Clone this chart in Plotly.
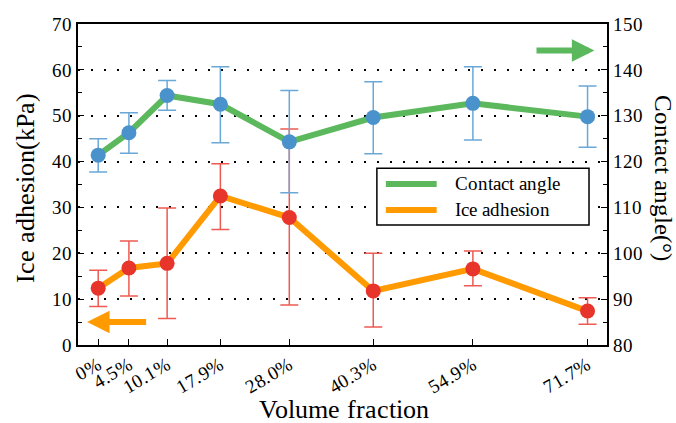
import plotly.graph_objects as go

volume_fraction = [0, 4.5, 10.1, 17.9, 28.0, 40.3, 54.9, 71.7]
tick_labels = ["0%", "4.5%", "10.1%", "17.9%", "28.0%", "40.3%", "54.9%", "71.7%"]

contact_angle = [121.4, 126.3, 134.4, 132.5, 124.3, 129.6, 132.7, 129.8]
contact_err_plus = [3.6, 4.35, 3.3, 8.2, 11.2, 7.8, 8.0, 6.7]
contact_err_minus = [3.7, 4.5, 3.2, 8.4, 11.1, 7.9, 8.0, 6.7]

ice_adhesion = [12.4, 16.8, 17.8, 32.5, 27.8, 11.8, 16.6, 7.4]
ice_err_plus = [3.9, 5.9, 12.1, 7.0, 19.3, 8.2, 3.9, 2.9]
ice_err_minus = [4.0, 6.1, 12.0, 7.3, 19.1, 7.9, 3.7, 2.9]

series_names = ["Contact angle", "Ice adhesion"]

GREEN = "#5cb85c"
BLUE = "#4a92cb"
BLUE_ERR = "#6aa8d8"
ORANGE = "#ff9a00"
RED = "#e8352b"
RED_ERR = "#ee5a52"
FONT = "RefSerif, Liberation Serif, Times New Roman, serif"

fig = go.Figure()

fig.add_trace(go.Scatter(
    x=volume_fraction, y=contact_angle, yaxis="y2", mode="lines+markers",
    name=series_names[0],
    line=dict(color=GREEN, width=6),
    marker=dict(color=BLUE, size=15),
    error_y=dict(type="data", array=contact_err_plus, arrayminus=contact_err_minus,
                 color=BLUE_ERR, thickness=1.5, width=9, symmetric=False),
    showlegend=False,
))
fig.add_trace(go.Scatter(
    x=volume_fraction, y=ice_adhesion, mode="lines+markers",
    name=series_names[1],
    line=dict(color=ORANGE, width=6),
    marker=dict(color=RED, size=15),
    error_y=dict(type="data", array=ice_err_plus, arrayminus=ice_err_minus,
                 color=RED_ERR, thickness=1.5, width=9, symmetric=False),
    showlegend=False,
))

# Hand-drawn legend box (paper coordinates)
legend_shapes = [
    dict(type="rect", xref="paper", yref="paper", x0=0.565, x1=0.966, y0=0.374, y1=0.551,
         line=dict(color="black", width=1.5), fillcolor="white", layer="above"),
    dict(type="line", xref="paper", yref="paper", x0=0.582, x1=0.678, y0=0.5016, y1=0.5016,
         line=dict(color=GREEN, width=6), layer="above"),
    dict(type="line", xref="paper", yref="paper", x0=0.582, x1=0.678, y0=0.4206, y1=0.4206,
         line=dict(color=ORANGE, width=6), layer="above"),
]
legend_texts = [
    dict(text=series_names[0], xref="paper", yref="paper", x=0.709, y=0.5016,
         xanchor="left", yanchor="middle", showarrow=False, font=dict(family=FONT, size=19)),
    dict(text=series_names[1], xref="paper", yref="paper", x=0.709, y=0.4206,
         xanchor="left", yanchor="middle", showarrow=False, font=dict(family=FONT, size=19)),
]

fig.update_layout(
    width=676, height=423,
    margin=dict(l=78, r=69, t=24, b=78, autoexpand=False),
    paper_bgcolor="white", plot_bgcolor="white",
    font=dict(family=FONT, size=19, color="black"),
    showlegend=False,
    xaxis=dict(
        range=[-2.96, 74.55], tickmode="array", tickvals=volume_fraction, ticktext=tick_labels,
        tickangle=-30, ticks="inside", ticklen=6, tickcolor="black",
        tickfont=dict(family=FONT, size=19),
        showline=True, linecolor="black", linewidth=1.5, mirror=True,
        showgrid=False, zeroline=False,
    ),
    yaxis=dict(
        range=[0, 70], dtick=10, ticks="inside", ticklen=6, tickcolor="black",
        tickfont=dict(family=FONT, size=19),
        showline=True, linecolor="black", linewidth=1.5,
        showgrid=True, gridcolor="black", gridwidth=2, griddash="2px,11px",
        zeroline=False,
        minor=dict(dtick=5, ticks="inside", ticklen=4, tickcolor="black", showgrid=False),
    ),
    yaxis2=dict(
        range=[80, 150], dtick=10, overlaying="y", side="right",
        ticks="inside", ticklen=6, tickcolor="black",
        tickfont=dict(family=FONT, size=19),
        showline=True, linecolor="black", linewidth=1.5,
        showgrid=False, zeroline=False,
        minor=dict(dtick=5, ticks="inside", ticklen=4, tickcolor="black"),
    ),
    shapes=legend_shapes,
    annotations=[
        dict(text="Ice adhesion(kPa)", xref="paper", yref="paper", x=-0.1, y=0.489,
             textangle=-90, showarrow=False, font=dict(family=FONT, size=26),
             xanchor="center", yanchor="middle"),
        dict(text="Contact angle(°)", xref="paper", yref="paper", x=1.106, y=0.52,
             textangle=90, showarrow=False, font=dict(family=FONT, size=25),
             xanchor="center", yanchor="middle"),
        dict(text="Volume fraction", xref="paper", yref="paper", x=0.503, y=-0.2,
             showarrow=False, font=dict(family=FONT, size=26),
             xanchor="center", yanchor="middle"),
        dict(text="", x=72.7, y=144.2, xref="x", yref="y2", ax=64.0, ay=144.2,
             axref="x", ayref="y2", showarrow=True, arrowhead=2, arrowsize=0.75,
             arrowwidth=6, arrowcolor=GREEN),
        dict(text="", x=-1.63, y=5.0, xref="x", yref="y", ax=7.24, ay=5.0,
             axref="x", ayref="y", showarrow=True, arrowhead=2, arrowsize=0.75,
             arrowwidth=6, arrowcolor=ORANGE),
    ] + legend_texts,
)

POST_SCRIPT = """
document.body.style.margin='0';
var st=document.createElement('style');
st.textContent="@font-face{font-family:'RefSerif';src:local('Liberation Serif'),local('LiberationSerif'),local('Liberation Serif Regular'),local('LiberationSerif-Regular'),local('Tinos'),local('Times New Roman'),local('DejaVu Serif'),url('file:///usr/share/fonts/truetype/liberation/LiberationSerif-Regular.ttf'),url('file:///usr/share/fonts/liberation/LiberationSerif-Regular.ttf'),url('file:///usr/share/fonts/truetype/liberation2/LiberationSerif-Regular.ttf'),url('file:///usr/share/fonts/truetype/dejavu/DejaVuSerif.ttf');}";
document.head.appendChild(st);
var gd=document.getElementById('{plot_id}');
document.fonts.load("19px RefSerif").then(function(){
  Plotly.newPlot(gd, gd.data, gd.layout, {displayModeBar:false});
}).catch(function(){});
"""

fig.write_html("out.html", config={"displayModeBar": False}, post_script=POST_SCRIPT)
